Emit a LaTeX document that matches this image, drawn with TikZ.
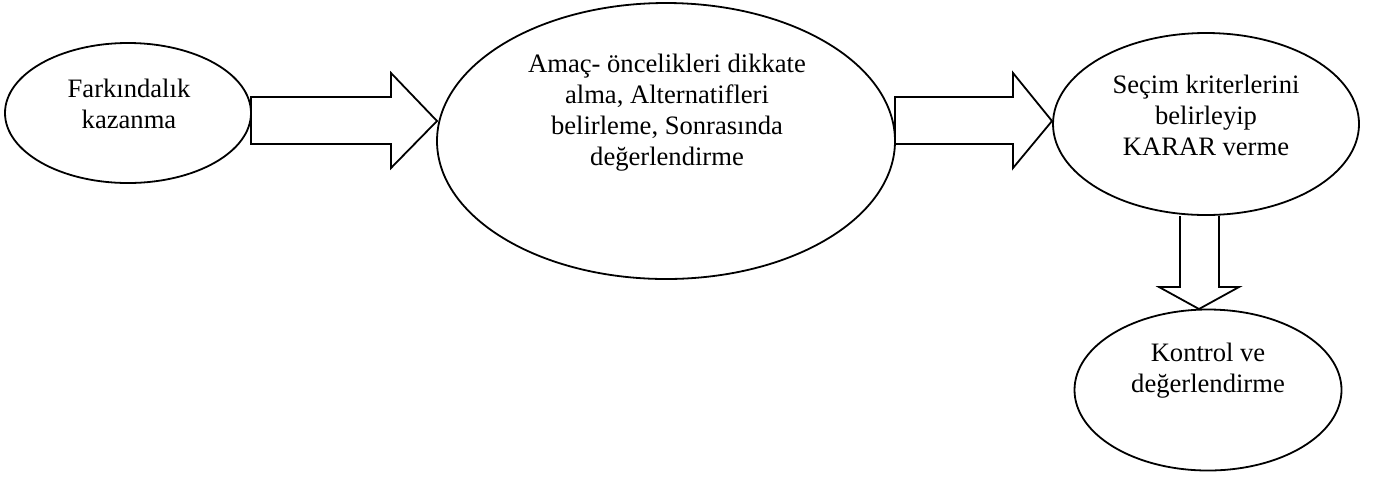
\documentclass[tikz,border=0pt]{standalone}
\usepackage{fontspec}
\setmainfont{Liberation Serif}
\usetikzlibrary{positioning,shapes.geometric}
\tikzstyle{stage}=[ellipse, draw, line width=0.9pt, inner sep=0pt]
\tikzstyle{stagetext}=[align=center, font=\fontsize{13.3}{15.5}\selectfont, inner sep=0pt]
\tikzstyle{blockarrow}=[draw, line width=0.9pt, line join=miter]

\begin{document}
\begin{tikzpicture}[%
    x=0.5pt, y=-0.5pt,
    node distance=0.05cm
  ]
      \useasboundingbox (0,0) rectangle (1379,478);

      %Stages
      \node[stage, minimum width=123pt, minimum height=70pt] (far) at (128,113) {};
      \node[stage, minimum width=229pt, minimum height=138pt] (amac) at (666,141) {};
      \node[stage, minimum width=153pt, minimum height=91pt] (secim) at (1206,124) {};
      \node[stage, minimum width=133.5pt, minimum height=80.5pt] (kontrol) at (1208,390) {};

      %Texts
      \node[stagetext] (farT) at (129,104) {Farkındalık\\kazanma};
      \node[stagetext] (amacT) at (667,113) {Amaç- öncelikleri dikkate\\alma, Alternatifleri\\belirleme, Sonrasında\\değerlendirme};
      \node[stagetext] (secimT) at (1206,115) {Seçim kriterlerini\\belirleyip\\KARAR verme};
      \node[stagetext] (kontrolT) at (1208,371) {Kontrol ve\\değerlendirme};

      %Block arrows
      \draw[blockarrow] (251,97) -- (391,97) -- (391,73) -- (437,121)
            -- (391,168) -- (391,144) -- (251,144) -- cycle;
      \draw[blockarrow] (895,97) -- (1013,97) -- (1013,73) -- (1052,121)
            -- (1013,168) -- (1013,144) -- (895,144) -- cycle;
      \draw[blockarrow] (1180,216) -- (1180,287) -- (1159,287) -- (1199,309)
            -- (1239,287) -- (1219,287) -- (1219,216);
    \end{tikzpicture}
\end{document}
